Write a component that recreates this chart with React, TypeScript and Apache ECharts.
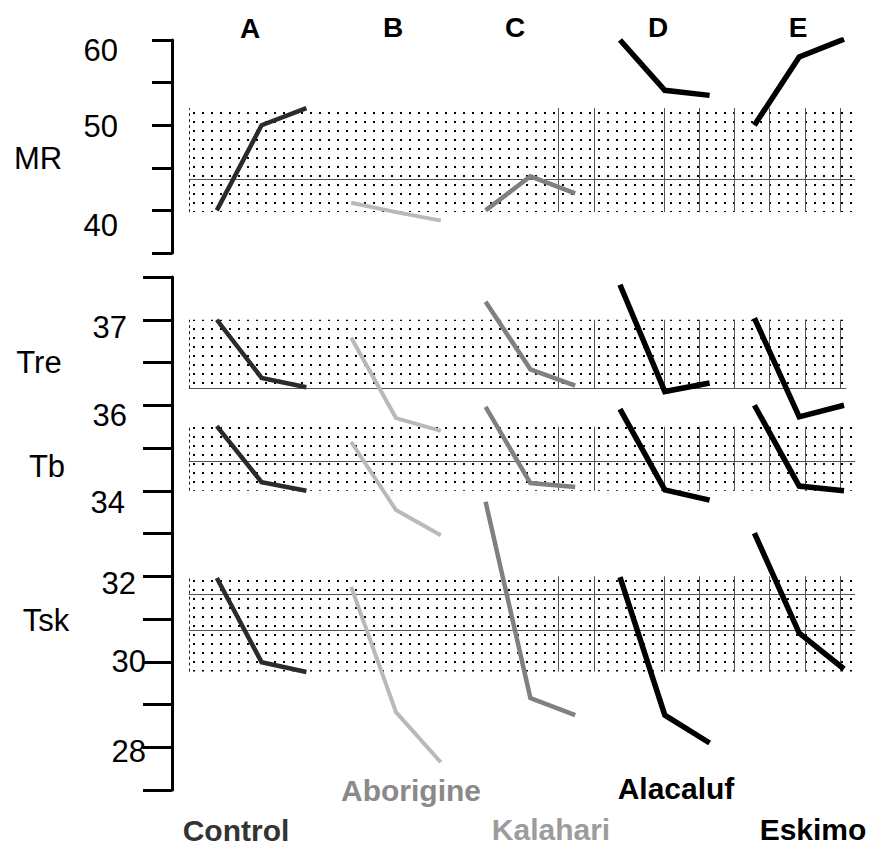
import React, { useEffect, useRef } from "react";
import * as echarts from "echarts";

// ---------- data ----------
const groupNames = ["Control", "Aborigine", "Kalahari", "Alacaluf", "Eskimo"];
const groupLetters = ["A", "B", "C", "D", "E"];
const rowLabels = ["MR", "Tre", "Tb", "Tsk"];

// three successive measurements per group
const MR = [
  [40.0, 50.0, 52.0],
  [40.9, 39.8, 38.8],
  [40.0, 44.0, 42.0],
  [60.0, 54.1, 53.5],
  [50.0, 58.0, 60.1],
];
const TRE = [
  [37.0, 36.32, 36.21],
  [36.79, 35.7, 35.4],
  [37.21, 36.42, 36.23],
  [37.41, 36.16, 36.26],
  [37.02, 35.73, 36.0],
];
const TB = [
  [35.51, 34.2, 34.0],
  [35.14, 33.55, 32.96],
  [35.96, 34.18, 34.09],
  [35.91, 34.02, 33.78],
  [36.0, 34.11, 34.0],
];
const TSK = [
  [31.96, 29.99, 29.76],
  [31.75, 28.82, 27.65],
  [33.74, 29.15, 28.75],
  [31.98, 28.75, 28.1],
  [33.01, 30.67, 29.83],
];

// reference (control) ranges and means
const MR_BAND = [39.8, 52.0];
const MR_MEAN = [43.7];
const TRE_BAND = [36.2, 37.0];
const TRE_MEAN = [36.2];
const TB_BAND = [34.0, 35.5];
const TB_MEAN = [34.7];
const TSK_BAND = [29.77, 32.0];
const TSK_MEAN = [30.74, 31.58];

const MR_TICKS = [40, 50, 60];
const TEMP_TICKS = [28, 30, 32, 34, 36, 37];

// ---------- scale helpers (broken temperature scale) ----------
const tempToPos = (t: number) => (t >= 36 ? 9 + 2 * (t - 36) : t - 27);
const posToTemp = (p: number) => (p >= 9 ? 36 + (p - 9) / 2 : p + 27);

// ---------- styles ----------
const FONT = '"Liberation Sans", Arial, Helvetica, sans-serif';
const lineColors = ["#2b2b2b", "#b9b9b9", "#808080", "#000000", "#000000"];
const lineWidths = [4.5, 4, 4.5, 5.5, 5.5];
const nameColors = ["#333333", "#8a8a8a", "#9c9c9c", "#000000", "#000000"];
const namePos = [
  [236, 830],
  [411, 790],
  [551, 829],
  [676, 788],
  [813, 829],
];
const letterPos = [
  [250, 28],
  [393, 27],
  [515, 27],
  [658, 27],
  [798, 27],
];
const rowLabelPos = [
  [38, 158],
  [39, 362],
  [47, 466],
  [46, 620],
];
const BAND_X0 = -0.625;
const BAND_X1 = 14.25;
const BAND_X1_TRE = 14.05;
const HATCH_START = 7.63;
const HATCH_STEP = 0.785;
const HATCH_IDX = [0, 1, 3, 4, 5, 6, 7, 8];

function makeDotPattern() {
  const c = document.createElement("canvas");
  c.width = 9;
  c.height = 9;
  const ctx = c.getContext("2d")!;
  ctx.fillStyle = "#000";
  ctx.fillRect(4, 4, 2, 2);
  return { image: c, repeat: "repeat", imageWidth: 9, imageHeight: 9 } as any;
}

export default function App() {
  const ref = useRef<HTMLDivElement>(null);

  useEffect(() => {
    if (!ref.current) return;
    const chart = echarts.init(ref.current, null, { renderer: "svg" });
    const pattern = makeDotPattern();
    const hatchX = HATCH_IDX.map((i) => HATCH_START + i * HATCH_STEP);

    const bandSeries = (
      gi: number,
      band: number[],
      means: number[],
      conv: (v: number) => number,
      x1: number
    ) => ({
      type: "line",
      xAxisIndex: gi,
      yAxisIndex: gi,
      data: [],
      symbol: "none",
      silent: true,
      z: 1,
      markArea: {
        silent: true,
        itemStyle: { color: pattern },
        data: [
          [
            { coord: [BAND_X0, conv(band[0])] },
            { coord: [x1, conv(band[1])] },
          ],
        ],
      },
      markLine: {
        silent: true,
        symbol: ["none", "none"],
        label: { show: false },
        emphasis: { disabled: true },
        lineStyle: { color: "#555", width: 1, type: "solid" },
        data: [
          ...means.map((m) => [
            { coord: [BAND_X0, conv(m)] },
            { coord: [x1, conv(m)] },
          ]),
          ...hatchX
            .filter((x) => x < x1)
            .map((x) => [
              { coord: [x, conv(band[0])] },
              { coord: [x, conv(band[1])] },
            ]),
          [
            {
              coord: [BAND_X0, conv(band[0])],
              lineStyle: { type: [3, 3], color: "#222" },
            },
            { coord: [BAND_X0, conv(band[1])] },
          ],
        ],
      },
    });

    const series: any[] = [
      bandSeries(0, MR_BAND, MR_MEAN, (v) => v, BAND_X1),
      bandSeries(1, TRE_BAND, TRE_MEAN, tempToPos, BAND_X1_TRE),
      bandSeries(1, TB_BAND, TB_MEAN, tempToPos, BAND_X1),
      bandSeries(1, TSK_BAND, TSK_MEAN, tempToPos, BAND_X1),
    ];

    const addLines = (
      vals: number[][],
      gi: number,
      conv: (v: number) => number,
      key: string
    ) => {
      vals.forEach((arr, g) => {
        series.push({
          name: `${key}-${groupNames[g]}`,
          type: "line",
          xAxisIndex: gi,
          yAxisIndex: gi,
          data: arr.map((v, i) => [g * 3 + i, conv(v)]),
          symbol: "none",
          silent: true,
          z: 5,
          lineStyle: {
            color: lineColors[g],
            width: lineWidths[g],
            cap: "butt",
            join: "miter",
          },
        });
      });
    };
    addLines(MR, 0, (v) => v, "MR");
    addLines(TRE, 1, tempToPos, "Tre");
    addLines(TB, 1, tempToPos, "Tb");
    addLines(TSK, 1, tempToPos, "Tsk");

    const labelBase = {
      fontFamily: FONT,
      fontSize: 31,
      color: "#000",
    };
    const mrRich: any = {
      m60: { ...labelBase, padding: [20, 0, 0, 0] },
      m50: { ...labelBase, padding: [2, 0, 0, 0] },
      m40: { ...labelBase, padding: [30, 0, 0, 0] },
    };
    const tRich: any = {
      t37: { ...labelBase, padding: [16, 19, 0, 0] },
      t36: { ...labelBase, padding: [20, 19, 0, 0] },
      t34: { ...labelBase, padding: [24, 21, 0, 0] },
      t32: { ...labelBase, padding: [14, 10, 0, 0] },
      t30: { ...labelBase, padding: [0, 0, 0, 0] },
      t28: { ...labelBase, padding: [8, 0, 0, 0] },
    };

    const xAxisBase = {
      type: "value",
      min: -1,
      max: 14.5,
      show: false,
    };

    const graphic: any[] = [];
    groupLetters.forEach((l, i) => {
      graphic.push({
        type: "text",
        x: letterPos[i][0],
        y: letterPos[i][1],
        style: {
          text: l,
          font: `bold 28px ${FONT}`,
          fill: "#000",
          textAlign: "center",
          textVerticalAlign: "middle",
        },
      });
    });
    groupNames.forEach((n, i) => {
      graphic.push({
        type: "text",
        x: namePos[i][0],
        y: namePos[i][1],
        style: {
          text: n,
          font: `bold 30px ${FONT}`,
          fill: nameColors[i],
          textAlign: "center",
          textVerticalAlign: "middle",
        },
      });
    });
    rowLabels.forEach((r, i) => {
      graphic.push({
        type: "text",
        x: rowLabelPos[i][0],
        y: rowLabelPos[i][1],
        style: {
          text: r,
          font: `31px ${FONT}`,
          fill: "#000",
          textAlign: "center",
          textVerticalAlign: "middle",
        },
      });
    });

    const yAxisLine = {
      show: true,
      onZero: false,
      lineStyle: { color: "#000", width: 3 },
    };

    chart.setOption({
      animation: false,
      backgroundColor: "#fff",
      grid: [
        { left: 172, right: 6.6, top: 40, height: 213 },
        { left: 172, right: 6.6, top: 277, height: 513 },
      ],
      xAxis: [
        { ...xAxisBase, gridIndex: 0 },
        { ...xAxisBase, gridIndex: 1 },
      ],
      yAxis: [
        {
          type: "value",
          gridIndex: 0,
          position: "left",
          min: 35,
          max: 60,
          interval: 5,
          splitLine: { show: false },
          axisLine: yAxisLine,
          axisTick: {
            show: true,
            length: 20,
            lineStyle: { color: "#000", width: 3 },
          },
          axisLabel: {
            margin: 54,
            ...labelBase,
            formatter: (v: number) =>
              MR_TICKS.includes(Math.round(v))
                ? `{m${Math.round(v)}|${Math.round(v)}}`
                : "",
            rich: mrRich,
          },
        },
        {
          type: "value",
          gridIndex: 1,
          position: "left",
          min: 0,
          max: 12,
          interval: 1,
          splitLine: { show: false },
          axisLine: yAxisLine,
          axisTick: {
            show: true,
            length: 29,
            lineStyle: { color: "#000", width: 3 },
          },
          axisLabel: {
            margin: 26,
            ...labelBase,
            formatter: (v: number) => {
              const t = posToTemp(v);
              return TEMP_TICKS.includes(t) ? `{t${t}|${t}}` : "";
            },
            rich: tRich,
          },
        },
      ],
      series,
      graphic,
    });

    return () => chart.dispose();
  }, []);

  return (
    <div
      ref={ref}
      style={{
        position: "fixed",
        left: 0,
        top: 0,
        width: 873,
        height: 846,
        background: "#fff",
      }}
    />
  );
}
